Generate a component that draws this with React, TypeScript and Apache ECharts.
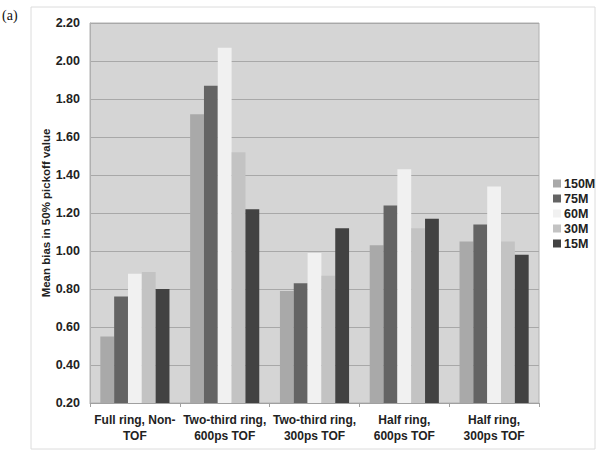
import React, { useEffect, useRef } from "react";
import * as echarts from "echarts";

const categories = [
  "Full ring, Non-\nTOF",
  "Two-third ring,\n600ps TOF",
  "Two-third ring,\n300ps TOF",
  "Half ring,\n600ps TOF",
  "Half ring,\n300ps TOF",
];
const seriesNames = ["150M", "75M", "60M", "30M", "15M"];
const s150M = [0.55, 1.72, 0.79, 1.03, 1.05];
const s75M = [0.76, 1.87, 0.83, 1.24, 1.14];
const s60M = [0.88, 2.07, 0.99, 1.43, 1.34];
const s30M = [0.89, 1.52, 0.87, 1.12, 1.05];
const s15M = [0.8, 1.22, 1.12, 1.17, 0.98];
const seriesData = [s150M, s75M, s60M, s30M, s15M];
const colors = ["#a9a9a9", "#646464", "#f1f1f1", "#c3c3c3", "#424242"];
const yTicks = { min: 0.2, max: 2.2, interval: 0.2 };

export default function App() {
  const ref = useRef<HTMLDivElement>(null);
  useEffect(() => {
    const chart = echarts.init(ref.current!, null, { renderer: "svg" });
    chart.setOption({
      animation: false,
      backgroundColor: "#ffffff",
      textStyle: { fontFamily: "Liberation Sans, Arial, sans-serif" },
      graphic: [
        {
          type: "rect",
          shape: { x: 31, y: 7, width: 564, height: 442 },
          style: { fill: "none", stroke: "#dcdcdc", lineWidth: 1 },
          silent: true,
        },
        {
          type: "text",
          left: 2,
          top: 8,
          style: {
            text: "(a)",
            font: "14px 'Liberation Serif', 'Times New Roman', serif",
            fill: "#111",
          },
        },
      ],
      legend: {
        data: seriesNames,
        orient: "vertical",
        left: 548,
        top: 172,
        itemWidth: 8,
        itemHeight: 8,
        itemGap: 2,
        icon: "rect",
        textStyle: { fontSize: 12.5, fontWeight: "bold", color: "#222", padding: [0, 0, 0, -2] },
      },
      grid: {
        left: 90,
        right: 62,
        top: 23,
        bottom: 53,
        show: true,
        backgroundColor: "#d5d5d5",
        borderColor: "#b0b0b0",
        borderWidth: 1,
      },
      xAxis: {
        type: "category",
        data: categories,
        axisLine: { lineStyle: { color: "#a0a0a0" } },
        axisTick: { show: true, alignWithLabel: false, lineStyle: { color: "#a0a0a0" }, length: 4 },
        axisLabel: {
          fontSize: 12,
          fontWeight: "bold",
          color: "#222",
          lineHeight: 16,
          margin: 9,
          interval: 0,
        },
      },
      yAxis: {
        type: "value",
        min: yTicks.min,
        max: yTicks.max,
        interval: yTicks.interval,
        name: "Mean bias in 50% pickoff value",
        nameLocation: "middle",
        nameGap: 38,
        nameMoveOverlap: false,
        nameTextStyle: { fontSize: 11.5, fontWeight: "bold", color: "#222" },
        axisLine: { show: true, lineStyle: { color: "#b0b0b0" } },
        axisTick: { show: false },
        axisLabel: {
          fontSize: 12.5,
          fontWeight: "bold",
          color: "#222",
          margin: 10,
          formatter: (v: number) => v.toFixed(2),
        },
        splitLine: { lineStyle: { color: "#a8a8a8", width: 1 } },
      },
      series: seriesNames.map((name, i) => ({
        name,
        type: "bar",
        data: seriesData[i],
        barGap: "0%",
        barCategoryGap: "23%",
        itemStyle: { color: colors[i] },
      })),
    });
    return () => chart.dispose();
  }, []);
  return (
    <div
      ref={ref}
      style={{ position: "fixed", left: 0, top: 0, width: 601, height: 456 }}
    />
  );
}
